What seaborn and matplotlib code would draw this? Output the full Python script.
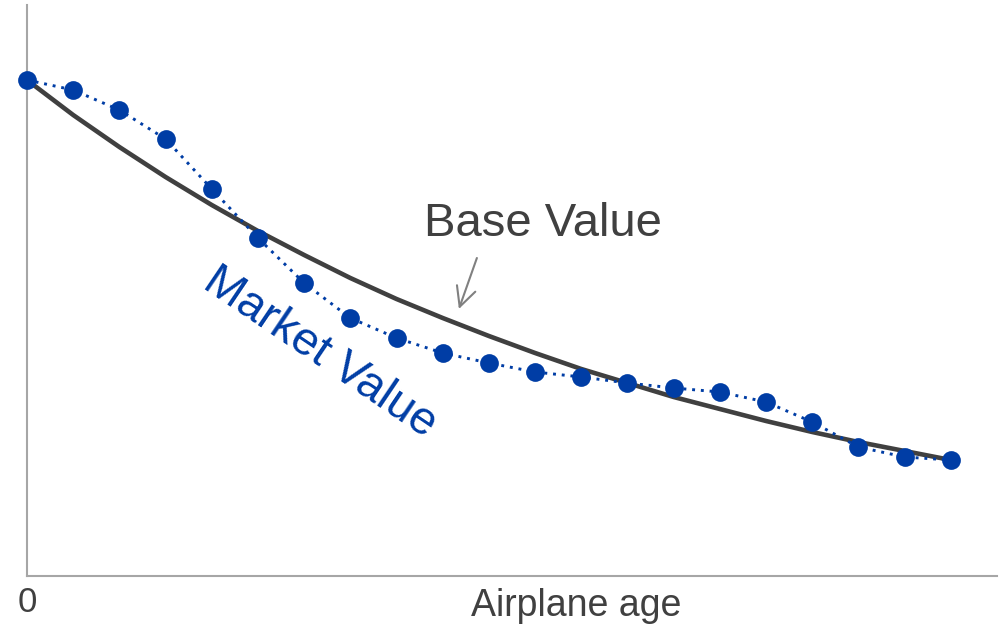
import matplotlib
matplotlib.use("Agg")
import matplotlib.pyplot as plt
import seaborn as sns
import pandas as pd

# Data
age = list(range(21))
market_value = [496, 486, 466, 437, 387, 338, 293, 258, 238, 223, 213,
                204, 199, 193, 188, 184, 174, 154, 129, 119, 116]
base_value = [496, 461, 429, 399, 371, 345, 321, 298, 277, 258, 240,
              223, 207, 193, 179, 167, 155, 144, 134, 125, 116]

df = pd.DataFrame({"age": age, "market": market_value, "base": base_value})

sns.set_style("white")
plt.rcParams['font.family'] = ['Liberation Sans', 'DejaVu Sans']

BLUE = "#003DA5"
DARK = "#404040"
GRAY = "#A6A6A6"

fig = plt.figure(figsize=(10.05, 6.27), dpi=100)
ax = fig.add_axes([27 / 1005, (627 - 576) / 627, (997 - 27) / 1005, (576 - 5) / 627])

sns.lineplot(data=df, x="age", y="base", ax=ax, color=DARK, linewidth=3.3,
             zorder=2, clip_on=False)
sns.lineplot(data=df, x="age", y="market", ax=ax, color=BLUE, linewidth=2.1,
             linestyle=(0, (1, 2.0)), marker="o", markersize=13.5,
             markeredgewidth=0, zorder=3, clip_on=False)

ax.set_xlim(0, 21)
ax.set_ylim(0, 571)
ax.set_xticks([])
ax.set_yticks([])
ax.set_xlabel("")
ax.set_ylabel("")
for s in ["top", "right"]:
    ax.spines[s].set_visible(False)
for s in ["left", "bottom"]:
    ax.spines[s].set_color(GRAY)
    ax.spines[s].set_linewidth(1.5)

ax.text(11.17, 352, "Base Value", fontsize=34, color=DARK, ha="center", va="center")
ax.text(6.34, 223, "Market Value", fontsize=33.5, color=BLUE, ha="center",
        va="center", rotation=-34, rotation_mode="anchor")
ax.annotate("", xy=(9.35, 267), xytext=(9.74, 318),
            arrowprops=dict(arrowstyle="->,head_length=0.7,head_width=0.35",
                            color="#808080", lw=1.5, mutation_scale=20,
                            shrinkA=0, shrinkB=0))

fig.text(27 / 1005, 1 - 603 / 627, "0", fontsize=25, color=DARK, ha="center", va="center")
fig.text(576 / 1005, 1 - 606 / 627, "Airplane age", fontsize=27, color=DARK,
         ha="center", va="center")

fig.savefig("out.png", dpi=100)
